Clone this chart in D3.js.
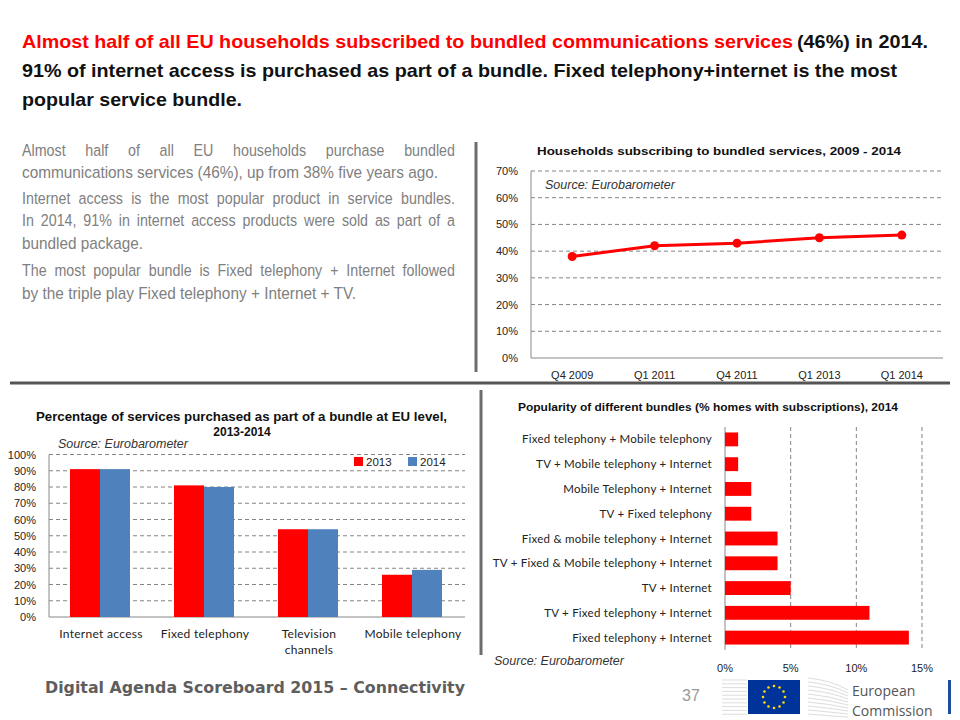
<!DOCTYPE html>
<html lang="en">
<head>
    <meta charset="UTF-8">
    <title>Bundled services</title>
    <style>
        body { margin: 0; background: #fff; }
        svg { display: block; }
        .arial { font-family: "Liberation Sans", Arial, sans-serif; }
        .cal { font-family: Lato, "Open Sans", sans-serif; }
    </style>
</head>
<body>
<svg id="slide" width="960" height="720"></svg>
<script src="https://d3js.org/d3.v7.min.js"></script>
<script>
// ---- data ----
const quarters = ['Q4 2009', 'Q1 2011', 'Q4 2011', 'Q1 2013', 'Q1 2014'];
const bundledShare = [0.38, 0.42, 0.43, 0.45, 0.46];
const lineTicks = [0, 0.1, 0.2, 0.3, 0.4, 0.5, 0.6, 0.7];

const services = ['Internet access', 'Fixed telephony', 'Television channels', 'Mobile telephony'];
const years = ['2013', '2014'];
const share2013 = [0.91, 0.81, 0.54, 0.26];
const share2014 = [0.91, 0.80, 0.54, 0.29];
const barTicks = [0, 0.1, 0.2, 0.3, 0.4, 0.5, 0.6, 0.7, 0.8, 0.9, 1.0];

const bundles = ['Fixed telephony + Mobile telephony', 'TV + Mobile telephony + Internet',
    'Mobile Telephony + Internet', 'TV + Fixed telephony', 'Fixed & mobile telephony + Internet',
    'TV + Fixed & Mobile telephony + Internet', 'TV + Internet', 'TV + Fixed telephony + Internet',
    'Fixed telephony + Internet'];
const bundleShare = [0.01, 0.01, 0.02, 0.02, 0.04, 0.04, 0.05, 0.11, 0.14];
const hbarTicks = [0, 0.05, 0.10, 0.15];

const RED = '#ff0000', BLUE = '#4f81bd';
const pct = d3.format('.0%');
const svg = d3.select('#slide');

// ---- headline ----
const head = [
    { t: 'Almost half of all EU households subscribed to bundled communications services', x: 22, y: 48, w: 771, c: RED },
    { t: '(46%) in 2014.', x: 797, y: 48, w: 131, c: '#111' },
    { t: '91% of internet access is purchased as part of a bundle. Fixed telephony+internet is the most', x: 22, y: 77, w: 875, c: '#111' },
    { t: 'popular service bundle.', x: 22, y: 106, w: 220, c: '#111' }
];
svg.selectAll('text.head').data(head).join('text')
    .attr('class', 'head arial')
    .attr('x', d => d.x).attr('y', d => d.y)
    .attr('textLength', d => d.w).attr('lengthAdjust', 'spacingAndGlyphs')
    .style('font-size', '19px').style('font-weight', 'bold').style('fill', d => d.c)
    .text(d => d.t);

// ---- body paragraph (narrowed Arial, justified by hand) ----
const para = [
    { t: 'Almost half of all EU households purchase bundled', y: 156, j: true },
    { t: 'communications services (46%), up from 38% five years ago.', y: 178, j: false, w: 416 },
    { t: 'Internet access is the most popular product in service bundles.', y: 204, j: true },
    { t: 'In 2014, 91% in internet access products were sold as part of a', y: 226, j: true },
    { t: 'bundled package.', y: 249, j: false, w: 121 },
    { t: 'The most popular bundle is Fixed telephony + Internet followed', y: 276, j: true },
    { t: 'by the triple play Fixed telephony + Internet + TV.', y: 299, j: false, w: 334 }
];
const PX = 22, PW = 433;
para.forEach(line => {
    if (!line.j) {
        svg.append('text').attr('class', 'arial')
            .attr('x', PX).attr('y', line.y)
            .attr('textLength', line.w).attr('lengthAdjust', 'spacingAndGlyphs')
            .style('font-size', '17px').style('fill', '#808080').text(line.t);
        return;
    }
    const words = line.t.split(' ');
    const g = svg.append('g');
    const nodes = words.map(w => g.append('text').attr('class', 'arial')
        .style('font-size', '17px').style('fill', '#808080').text(w));
    const widths = nodes.map(n => n.node().getComputedTextLength());
    let sx = 0.84;
    const minGap = 3.5 * (words.length - 1);
    if (d3.sum(widths) * sx + minGap > PW) sx = (PW - minGap) / d3.sum(widths);
    const gap = (PW - d3.sum(widths) * sx) / (words.length - 1);
    let cx = PX;
    nodes.forEach((n, i) => {
        n.attr('transform', `translate(${cx},${line.y}) scale(${sx},1)`);
        cx += widths[i] * sx + gap;
    });
});

// ---- dividers ----
svg.append('line').attr('x1', 476).attr('x2', 476).attr('y1', 142).attr('y2', 372)
    .style('stroke', '#6d6d6d').style('stroke-width', 3);
svg.append('line').attr('x1', 10).attr('x2', 950).attr('y1', 383).attr('y2', 383)
    .style('stroke', '#555').style('stroke-width', 3);
svg.append('line').attr('x1', 481).attr('x2', 481).attr('y1', 390).attr('y2', 655)
    .style('stroke', '#6d6d6d').style('stroke-width', 3);

// ---- chart 1: line ----
{
    const x = d3.scaleBand().domain(quarters).range([531, 943]);
    const y = d3.scaleLinear().domain([0, 0.7]).range([358, 171]);
    const g = svg.append('g');
    g.append('text').attr('class', 'arial').attr('x', 537).attr('y', 155)
        .attr('textLength', 364).attr('lengthAdjust', 'spacingAndGlyphs')
        .style('font-size', '11.5px').style('font-weight', 'bold').style('fill', '#111')
        .text('Households subscribing to bundled services,  2009 - 2014');
    g.selectAll('line.grid').data(lineTicks.slice(1)).join('line')
        .attr('x1', 531).attr('x2', 943).attr('y1', d => y(d)).attr('y2', d => y(d))
        .style('stroke', '#666').style('stroke-dasharray', '4,3').style('stroke-width', 0.8);
    g.append('line').attr('x1', 531).attr('x2', 531).attr('y1', 171).attr('y2', 358).style('stroke', '#888');
    g.append('line').attr('x1', 531).attr('x2', 943).attr('y1', 358).attr('y2', 358).style('stroke', '#888');
    g.selectAll('text.yt').data(lineTicks).join('text').attr('class', 'yt arial')
        .attr('x', 518).attr('y', d => y(d) + 4).attr('text-anchor', 'end')
        .style('font-size', '11px').style('fill', '#222').text(pct);
    g.selectAll('text.xt').data(quarters).join('text').attr('class', 'xt arial')
        .attr('x', d => x(d) + x.bandwidth() / 2).attr('y', 379).attr('text-anchor', 'middle')
        .style('font-size', '11px').style('fill', '#222').text(d => d);
    g.append('text').attr('class', 'arial').attr('x', 545).attr('y', 189)
        .style('font-size', '12.5px').style('font-style', 'italic').style('fill', '#333')
        .text('Source: Eurobarometer');
    const line = d3.line().x((d, i) => x(quarters[i]) + x.bandwidth() / 2).y(d => y(d));
    g.append('path').datum(bundledShare).attr('d', line)
        .style('fill', 'none').style('stroke', RED).style('stroke-width', 3);
    g.selectAll('circle').data(bundledShare).join('circle')
        .attr('cx', (d, i) => x(quarters[i]) + x.bandwidth() / 2).attr('cy', d => y(d))
        .attr('r', 4.5).style('fill', RED);
}

// ---- chart 2: grouped bars ----
{
    const x0 = d3.scaleBand().domain(services).range([49, 465]);
    const x1 = d3.scaleBand().domain(years).range([21, 81]);
    const y = d3.scaleLinear().domain([0, 1]).range([617, 454.5]);
    const g = svg.append('g');
    g.append('text').attr('class', 'arial').attr('x', 36).attr('y', 421)
        .attr('textLength', 411).attr('lengthAdjust', 'spacingAndGlyphs')
        .style('font-size', '12px').style('font-weight', 'bold').style('fill', '#111')
        .text('Percentage of services purchased as part of a bundle at EU level,');
    g.append('text').attr('class', 'arial').attr('x', 242).attr('y', 436).attr('text-anchor', 'middle')
        .style('font-size', '12px').style('font-weight', 'bold').style('fill', '#111')
        .text('2013-2014');
    g.selectAll('line.grid').data(barTicks.slice(1)).join('line')
        .attr('x1', 49).attr('x2', 465).attr('y1', d => y(d)).attr('y2', d => y(d))
        .style('stroke', '#666').style('stroke-dasharray', '4,3').style('stroke-width', 0.8);
    g.append('line').attr('x1', 49).attr('x2', 49).attr('y1', 454.5).attr('y2', 617).style('stroke', '#888');
    g.append('line').attr('x1', 49).attr('x2', 465).attr('y1', 617).attr('y2', 617).style('stroke', '#888');
    g.selectAll('text.yt').data(barTicks).join('text').attr('class', 'yt arial')
        .attr('x', 36).attr('y', d => y(d) + 4).attr('text-anchor', 'end')
        .style('font-size', '11px').style('fill', '#222').text(pct);
    const rows = services.map((s, i) => ({ s, v: [share2013[i], share2014[i]] }));
    const grp = g.selectAll('g.cat').data(rows).join('g').attr('class', 'cat')
        .attr('transform', d => `translate(${x0(d.s)},0)`);
    grp.selectAll('rect').data(d => d.v.map((v, k) => ({ yr: years[k], v }))).join('rect')
        .attr('x', d => x1(d.yr)).attr('width', x1.bandwidth())
        .attr('y', d => y(d.v)).attr('height', d => 617 - y(d.v))
        .style('fill', d => d.yr === '2013' ? RED : BLUE);
    const labels = { 'Television channels': ['Television', 'channels'] };
    g.selectAll('text.xt').data(services).join('text').attr('class', 'xt cal')
        .attr('text-anchor', 'middle').style('font-size', '12px').style('fill', '#222')
        .style('letter-spacing', '0.3px')
        .selectAll('tspan').data(d => (labels[d] || [d]).map(t => ({ t, c: x0(d) + x0.bandwidth() / 2 })))
        .join('tspan').attr('x', d => d.c).attr('y', (d, i) => 638 + i * 16).text(d => d.t);
    g.append('text').attr('class', 'arial').attr('x', 58).attr('y', 448)
        .style('font-size', '12.5px').style('font-style', 'italic').style('fill', '#333')
        .text('Source: Eurobarometer');
    const leg = g.selectAll('g.leg').data(years).join('g').attr('class', 'leg')
        .attr('transform', (d, i) => `translate(${354 + i * 54},457)`);
    leg.append('rect').attr('width', 9).attr('height', 9).style('fill', d => d === '2013' ? RED : BLUE);
    leg.append('text').attr('class', 'arial').attr('x', 12).attr('y', 9)
        .style('font-size', '11.5px').style('fill', '#222').text(d => d);
}

// ---- chart 3: horizontal bars ----
{
    const y = d3.scaleBand().domain(bundles).range([427, 650]).paddingInner(0.44).paddingOuter(0.22);
    const x = d3.scaleLinear().domain([0, 0.15]).range([725, 922]);
    const g = svg.append('g');
    g.append('text').attr('class', 'arial').attr('x', 518).attr('y', 411)
        .attr('textLength', 380).attr('lengthAdjust', 'spacingAndGlyphs')
        .style('font-size', '11.5px').style('font-weight', 'bold').style('fill', '#111')
        .text('Popularity of different bundles (% homes with subscriptions), 2014');
    g.selectAll('line.grid').data(hbarTicks.slice(1)).join('line')
        .attr('x1', d => x(d)).attr('x2', d => x(d)).attr('y1', 427).attr('y2', 650)
        .style('stroke', '#666').style('stroke-dasharray', '4,3').style('stroke-width', 0.8);
    g.append('line').attr('x1', 725).attr('x2', 725).attr('y1', 427).attr('y2', 650).style('stroke', '#888');
    g.selectAll('rect').data(bundles).join('rect')
        .attr('x', 725).attr('y', d => y(d)).attr('height', y.bandwidth())
        .attr('width', (d, i) => x(bundleShare[i]) - 725).style('fill', RED);
    g.selectAll('text.yl').data(bundles).join('text').attr('class', 'yl cal')
        .attr('x', 712).attr('y', d => y(d) + y.bandwidth() / 2 + 4).attr('text-anchor', 'end')
        .style('font-size', '11.5px').style('fill', '#222').style('letter-spacing', '0.25px').text(d => d);
    g.selectAll('text.xt').data(hbarTicks).join('text').attr('class', 'xt arial')
        .attr('x', d => x(d)).attr('y', 672).attr('text-anchor', 'middle')
        .style('font-size', '11px').style('fill', '#222').text(pct);
    g.append('text').attr('class', 'arial').attr('x', 494).attr('y', 665)
        .style('font-size', '12.5px').style('font-style', 'italic').style('fill', '#333')
        .text('Source: Eurobarometer');
}

// ---- footer ----
svg.append('text').attr('x', 45).attr('y', 693)
    .attr('textLength', 420).attr('lengthAdjust', 'spacingAndGlyphs')
    .style('font-family', '"DejaVu Sans", Verdana, sans-serif').style('font-size', '15.5px').style('font-weight', 'bold')
    .style('fill', '#5e5e5e').text('Digital Agenda Scoreboard 2015 \u2013 Connectivity');
svg.append('text').attr('class', 'arial').attr('x', 682).attr('y', 701)
    .style('font-size', '16px').style('fill', '#999').text('37');

// EU logo
const logo = svg.append('g');
d3.range(10).forEach(i => {
    logo.append('line').attr('x1', 722).attr('x2', 747).attr('y1', 680 + i * 3.8).attr('y2', 680 + i * 3.8)
        .style('stroke', '#ddd').style('stroke-width', 1);
    logo.append('path').attr('d', `M808,${678 + i * 4} Q830,${680 + i * 4} 848,${690 + i * 3}`)
        .style('fill', 'none').style('stroke', '#ddd').style('stroke-width', 1);
});
logo.append('rect').attr('x', 748).attr('y', 680).attr('width', 52).attr('height', 34).style('fill', '#003399');
logo.selectAll('circle.star').data(d3.range(12)).join('circle').attr('class', 'star')
    .attr('cx', i => 774 + 11 * Math.cos(i * Math.PI / 6))
    .attr('cy', i => 697 + 11 * Math.sin(i * Math.PI / 6))
    .attr('r', 1.3).style('fill', '#ffdd00');
logo.append('text').attr('x', 852).attr('y', 696)
    .style('font-family', '"Open Sans", sans-serif').style('font-size', '14px').style('fill', '#555').text('European');
logo.append('text').attr('x', 852).attr('y', 716)
    .style('font-family', '"Open Sans", sans-serif').style('font-size', '14px').style('fill', '#555').text('Commission');
logo.append('rect').attr('x', 948).attr('y', 680).attr('width', 3).attr('height', 34).style('fill', '#1f4ea1');
</script>
</body>
</html>
